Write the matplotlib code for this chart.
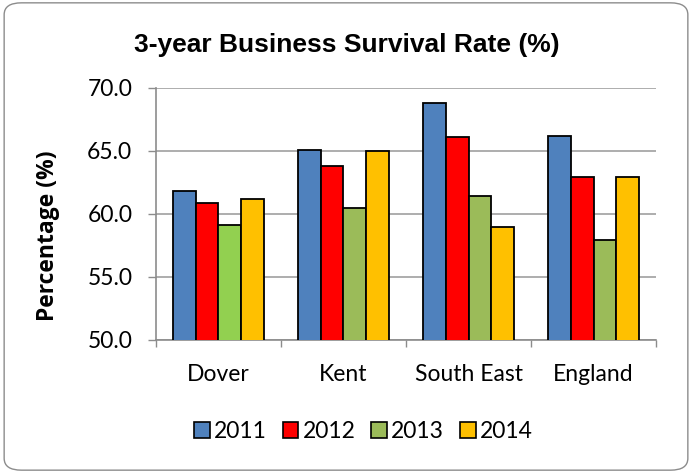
import numpy as np
import matplotlib
matplotlib.use("Agg")
import matplotlib.pyplot as plt
from matplotlib.patches import FancyBboxPatch, Patch

regions = ["Dover", "Kent", "South East", "England"]
years = ["2011", "2012", "2013", "2014"]
rate_2011 = [61.8, 65.1, 68.8, 66.2]
rate_2012 = [60.9, 63.8, 66.1, 62.9]
rate_2013 = [59.1, 60.5, 61.4, 57.9]
rate_2014 = [61.2, 65.0, 59.0, 62.9]
y_ticks = [50.0, 55.0, 60.0, 65.0, 70.0]

colors = ["#4F81BD", "#FF0000", "#9BBB59", "#FFC000"]
# Dover's 2013 bar is a brighter green in the original
colors_2013 = ["#92D050", "#9BBB59", "#9BBB59", "#9BBB59"]

fig = plt.figure(figsize=(6.92, 4.73), dpi=100)
fig.patches.append(FancyBboxPatch((0.006, 0.006), 0.988, 0.988,
                                  boxstyle="round,pad=0,rounding_size=0.025",
                                  transform=fig.transFigure, facecolor="none",
                                  edgecolor="#8C8C8C", linewidth=1.0, zorder=-1))
ax = fig.add_axes([0.2254, 0.2812, 0.7226, 0.5328])

x = np.arange(len(regions))
w = 0.1825
series = [rate_2011, rate_2012, rate_2013, rate_2014]
for i, vals in enumerate(series):
    fc = colors_2013 if i == 2 else colors[i]
    ax.bar(x + (i - 1.5) * w, vals, width=w, color=fc, edgecolor="black",
           linewidth=1.3, zorder=3)

ax.set_ylim(50, 70)
ax.set_xlim(-0.5, len(regions) - 0.5)
ax.set_yticks(y_ticks)
ax.set_yticklabels([f"{v:.1f}" for v in y_ticks], fontsize=16.5, family="Lato")
ax.set_xticks(x)
ax.set_xticklabels(regions, fontsize=16.5, family="Lato")
ax.tick_params(axis="x", length=0, pad=17)
ax.set_xticks(np.arange(-0.5, len(regions)), minor=True)
ax.tick_params(axis="x", which="minor", length=5, color="#8C8C8C", width=1)
ax.tick_params(axis="y", length=6, color="#8C8C8C", width=1, pad=11)
ax.grid(axis="y", color="#A0A0A0", linewidth=1.2, zorder=0)
for s in ["top", "right"]:
    ax.spines[s].set_visible(False)
for s in ["left", "bottom"]:
    ax.spines[s].set_color("#8C8C8C")
    ax.spines[s].set_linewidth(1.2)

ax.set_ylabel("Percentage (%)", fontsize=16.5, fontweight="bold",
              family="Open Sans")
ax.yaxis.set_label_coords(-0.192, 0.413)
fig.text(0.501, 0.905, "3-year Business Survival Rate (%)", ha="center",
         va="center", fontsize=19, fontweight="bold", family="Liberation Sans")

handles = [Patch(facecolor=c, edgecolor="black", linewidth=1.2) for c in colors]
fig.legend(handles, years, loc="center", bbox_to_anchor=(0.525, 0.087), ncol=4,
           frameon=False, prop={"family": "Lato", "size": 16.5},
           handlelength=0.68, handleheight=0.68, handletextpad=0.18,
           columnspacing=0.7)

fig.savefig("out.png", dpi=100)
